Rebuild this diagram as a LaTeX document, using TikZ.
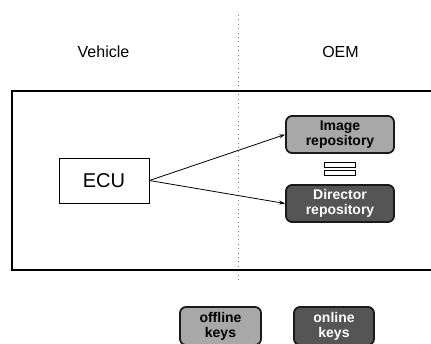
\documentclass[tikz,border=0pt]{standalone}
\usepackage{fontspec}
\setmainfont{Liberation Sans}
\usetikzlibrary{arrows.meta}
\definecolor{lightrepo}{HTML}{A8A8A8}
\definecolor{darkrepo}{HTML}{555555}
\definecolor{edge}{HTML}{1A1A1A}
\tikzset{
  repo/.style={draw=edge, line width=1.8pt, rounded corners=6pt, align=center, inner sep=0pt,
    font=\bfseries\fontsize{14}{15}\selectfont},
  lightbox/.style={repo, fill=lightrepo, text=black},
  darkbox/.style={repo, fill=darkrepo, text=white},
  label/.style={font=\fontsize{16}{19}\selectfont, inner sep=0pt},
  link/.style={-{Stealth[length=6pt,width=4pt]}, line width=0.8pt},
  eqbar/.style={draw=black, fill=white, line width=0.8pt}
}
\begin{document}
\begin{tikzpicture}[x=1pt,y=-1pt]
\useasboundingbox (0,0) rectangle (431,343);
\clip (0,0) rectangle (431,343);
\fill[white] (0,0) rectangle (431,343);
% labels
\node[label] (veh) at (103.5,52) {Vehicle};
\node[label] (oem) at (340.5,52) {OEM};
% dotted separator
\coordinate (sepTop) at (238,15);
\coordinate (sepBot) at (238,283);
\draw[gray, line width=1pt, dash pattern=on 1pt off 3.4pt] (sepTop) -- (sepBot);
% outer frame
\draw[line width=2pt, black] (12,91) rectangle (445,270);
% ECU
\node[draw, line width=0.8pt, minimum width=90pt, minimum height=45pt, inner sep=0pt,
  font=\fontsize{20}{24}\selectfont] (ecu) at (104,180.5) {ECU};
% repositories
\node[lightbox, minimum width=108pt, minimum height=37pt] (img) at (340,134.5) {Image\\repository};
\node[darkbox, minimum width=108pt, minimum height=37pt] (dir) at (340,203.5) {Director\\repository};
% equal sign
\node[eqbar, minimum width=31pt, minimum height=5pt, inner sep=0pt] (eq1) at (339.5,164.5) {};
\node[eqbar, minimum width=31pt, minimum height=5pt, inner sep=0pt] (eq2) at (339.5,172.5) {};
% arrows
\draw[link] (ecu.east) -- (img.west);
\draw[link] (ecu.east) -- (dir.west);
% keys
\node[lightbox, minimum width=81pt, minimum height=38pt] (off) at (220.5,326) {offline\\keys};
\node[darkbox, minimum width=80pt, minimum height=38pt] (on) at (334,326) {online\\keys};
\end{tikzpicture}
\end{document}
